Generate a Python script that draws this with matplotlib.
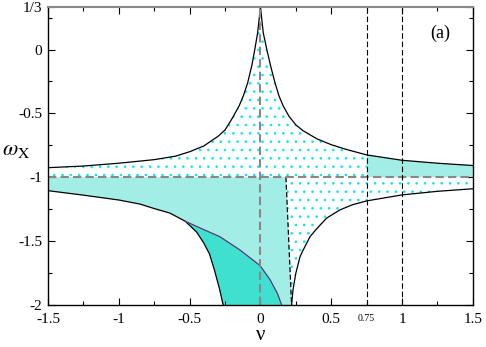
import numpy as np
import matplotlib
matplotlib.use("Agg")
import matplotlib.pyplot as plt

plt.rcParams['font.family'] = ['Liberation Serif', 'DejaVu Serif']
plt.rcParams['mathtext.fontset'] = 'stix'
plt.rcParams['hatch.linewidth'] = 0.6

# upper boundary curve
up_nu = [-1.5, -1.25, -1.0, -0.75, -0.6, -0.5, -0.4, -0.3, -0.25, -0.2, -0.15, -0.12, -0.09,
         -0.06, -0.04, -0.02, -0.008, 0.0, 0.008, 0.02, 0.045, 0.07, 0.1, 0.13, 0.16, 0.2,
         0.25, 0.3, 0.4, 0.5, 0.6, 0.75, 1.0, 1.25, 1.5]
up_w = [-0.925, -0.912, -0.89, -0.862, -0.835, -0.80, -0.755, -0.68, -0.63, -0.54, -0.44, -0.36, -0.26,
        -0.12, 0.0, 0.13, 0.25, 1/3, 0.25, 0.13, 0.0, -0.12, -0.25, -0.36, -0.44, -0.52,
        -0.59, -0.635, -0.70, -0.745, -0.78, -0.825, -0.867, -0.89, -0.908]

# lower left branch
ll_nu = [-1.5, -1.25, -1.0, -0.85, -0.75, -0.64, -0.53, -0.45, -0.4, -0.36, -0.325, -0.29, -0.263]
ll_w = [-1.105, -1.14, -1.178, -1.21, -1.245, -1.28, -1.345, -1.43, -1.515, -1.6, -1.726, -1.87, -2.0]

# purple boundary of the solid region
pp_nu = [-0.53, -0.4, -0.287, -0.145, -0.004, 0.067, 0.12, 0.15]
pp_w = [-1.345, -1.41, -1.465, -1.569, -1.69, -1.80, -1.91, -2.0]

# slanted dashed boundary
sl_nu = [0.18, 0.22]
sl_w = [-1.0, -2.0]

# lower right branch
lr_nu = [0.22, 0.23, 0.25, 0.28, 0.302, 0.35, 0.4, 0.467, 0.56, 0.65, 0.75, 1.0, 1.25, 1.5]
lr_w = [-2.0, -1.88, -1.75, -1.62, -1.569, -1.465, -1.40, -1.32, -1.256, -1.215, -1.185, -1.138, -1.11, -1.09]

xticks = [-1.5, -1, -0.5, 0, 0.5, 1, 1.5]
xlabels = ['-1.5', '-1', '-0.5', '0', '0.5', '1', '1.5']
yticks = [-2, -1.5, -1, -0.5, 0, 1/3]
ylabels = ['-2', '-1.5', '-1', '-0.5', '0', '1/3']

turq = '#40e0d0'
dense = '#a2ede6'
dotc = '#00e8f0'

fig = plt.figure(figsize=(4.86, 3.47), dpi=100)
ax = fig.add_axes([0.0988, 0.121, 0.8742, 0.859])

up_nu = np.array(up_nu); up_w = np.array(up_w)

# sparse dotted region above -1
ax.fill_between(up_nu, -1, up_w, facecolor='white', edgecolor=dotc, hatch='..', linewidth=0)
# sparse dotted region below -1, right side
px = sl_nu + lr_nu[1:] + [1.5]
py = sl_w + lr_w[1:] + [-1.0]
ax.fill(px, py, facecolor='white', edgecolor=dotc, hatch='..', linewidth=0)

# dense region top right
m = up_nu >= 0.75
ax.fill_between(up_nu[m], -1, up_w[m], facecolor=dense, linewidth=0)
# dense region lower left
dx = [-1.5] + sl_nu + ll_nu[::-1]
dy = [-1.0] + sl_w + ll_w[::-1]
ax.fill(dx, dy, facecolor=dense, linewidth=0)

# solid region
i0 = ll_nu.index(-0.53)
sx = ll_nu[i0:] + pp_nu[::-1]
sy = ll_w[i0:] + pp_w[::-1]
ax.fill(sx, sy, color=turq, linewidth=0)

# boundary curves
ax.plot(up_nu, up_w, color='black', lw=0.9)
ax.plot(ll_nu, ll_w, color='black', lw=0.9)
ax.plot(lr_nu, lr_w, color='black', lw=0.9)
ax.plot(pp_nu, pp_w, color='#5a3a70', lw=0.9)
ax.plot(sl_nu, sl_w, color='black', lw=0.9, ls=(0, (4, 2)))

# reference lines
ax.axhline(-1, color='#888888', lw=1.5, ls=(0, (4, 2)))
ax.axvline(0, color='#888888', lw=1.5, ls=(0, (4, 2)))
ax.axvline(0.75, color='black', lw=0.8, ls=(0, (5, 2.5)))
ax.axvline(1.0, color='black', lw=0.8, ls=(0, (5, 2.5)))

ax.set_xlim(-1.5, 1.5)
ax.set_ylim(-2, 1/3)
ax.set_xticks(xticks)
ax.set_xticklabels(xlabels, fontsize=11)
ax.set_xticks([-1.25, -0.75, -0.25, 0.25, 0.75, 1.25], minor=True)
ax.set_yticks(yticks)
ax.set_yticklabels(ylabels, fontsize=11)
ax.set_yticks([-1.75, -1.25, -0.75, -0.25, 0.25], minor=True)
ax.tick_params(which='both', direction='in', top=True, right=True, width=0.8)
ax.tick_params(which='major', length=5)
ax.tick_params(which='minor', length=3)
ax.tick_params(axis='x', which='major', pad=6)
ax.tick_params(axis='y', which='major', pad=4)
for s in ['left', 'right', 'bottom']:
    ax.spines[s].set_linewidth(1.0)
ax.spines['top'].set_color('#888888')
ax.spines['top'].set_linewidth(1.5)

ax.text(0.75, -2.07, '0.75', fontsize=7, ha='center', va='top')
ax.set_xlabel('ν', fontsize=15, labelpad=0)
fig.text(0.005, 0.565, r'$\omega_{\rm X}$', fontsize=16, ha='left', va='center')
ax.text(1.27, 0.13, '(a)', fontsize=13, ha='center', va='center')

fig.savefig('out.png', dpi=100)
